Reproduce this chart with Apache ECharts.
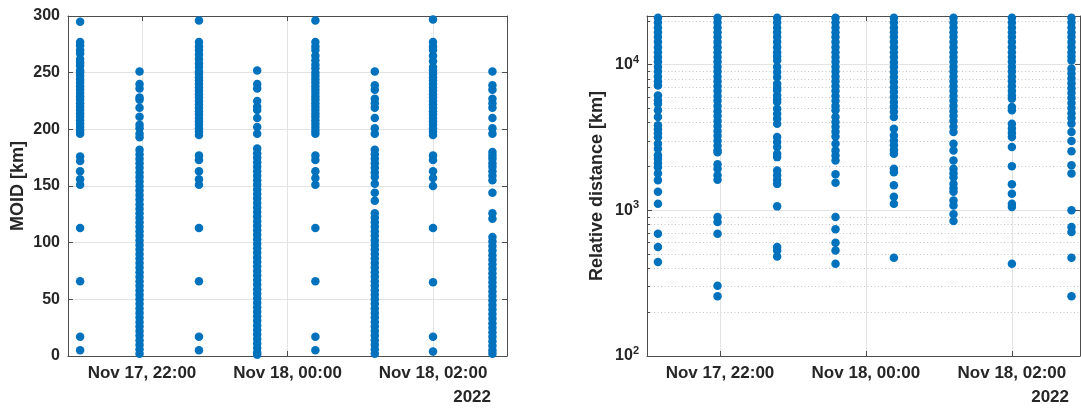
<!DOCTYPE html>
<html>
<head>
<meta charset="utf-8">
<script src="https://cdn.jsdelivr.net/npm/echarts@6/dist/echarts.min.js"></script>
<style>
  html, body { margin: 0; padding: 0; background: #fff; }
  #chart { width: 1081px; height: 408px; }
</style>
</head>
<body>
<div id="chart"></div>
<script>
// epochs of the eight observation batches
const epochs = ['2022-11-17 21:09', '2022-11-17 21:58', '2022-11-17 22:47', '2022-11-17 23:35',
  '2022-11-18 00:23', '2022-11-18 01:12', '2022-11-18 02:00', '2022-11-18 02:49']
const xTicks = ['2022-11-17 22:00', '2022-11-18 00:00', '2022-11-18 02:00']
const distTicks = [100, 1000, 10000]
const distMinorTicks = [200, 300, 400, 500, 600, 700, 800, 900,
  2000, 3000, 4000, 5000, 6000, 7000, 8000, 9000, 20000]

// MOID [km] per epoch
const moid1 = [295, 277, 274, 270, 267, 262, 259, 256, 252, 250, 247, 244, 241, 238, 235, 232, 229, 226, 223,
  220, 217, 214, 211, 208, 205, 202, 199, 196, 176, 172, 163, 156, 151, 113, 66, 17, 5]
const moid2 = [251, 240, 236, 228, 226, 219, 211, 204, 201, 196, 193, 182, 178, 174, 170, 166, 162, 158, 154,
  150, 146, 142, 138, 134, 130, 126, 122, 118, 114, 110, 106, 102, 98, 94, 90, 86, 82, 78, 74, 70, 66, 62,
  58, 54, 50, 46, 42, 38, 34, 30, 26, 22, 18, 14, 10, 6, 2]
const moid3 = [296, 277, 273, 270, 266, 262, 258, 255, 251, 249, 246, 243, 240, 237, 234, 231, 228, 225, 222,
  219, 216, 213, 210, 207, 204, 201, 198, 195, 177, 173, 163, 156, 151, 113, 66, 17, 5]
const moid4 = [252, 240, 236, 225, 220, 217, 210, 202, 196, 183, 179, 175, 171, 167, 163, 159, 155, 151, 147,
  143, 139, 135, 131, 127, 123, 119, 115, 111, 107, 103, 99, 95, 91, 87, 83, 79, 75, 71, 67, 63, 59, 55,
  51, 47, 43, 39, 35, 31, 27, 23, 19, 15, 11, 7, 3, 1]
const moid5 = [296, 277, 273, 270, 265, 261, 257, 254, 250, 247, 244, 241, 238, 235, 232, 229, 226, 223, 220,
  217, 214, 211, 208, 205, 202, 199, 196, 177, 173, 163, 157, 151, 113, 66, 17, 5]
const moid6 = [251, 239, 235, 227, 223, 219, 210, 201, 196, 182, 178, 174, 170, 166, 162, 158, 152, 144, 137,
  126, 122, 118, 114, 110, 106, 102, 98, 94, 90, 86, 82, 78, 74, 70, 66, 62, 58, 54, 50, 46, 42, 38, 34,
  30, 26, 22, 18, 14, 10, 6, 2]
const moid7 = [297, 277, 273, 270, 265, 260, 255, 252, 249, 246, 243, 240, 237, 234, 231, 228, 225, 222, 219,
  216, 213, 210, 207, 204, 201, 198, 195, 177, 173, 163, 157, 150, 113, 65, 17, 4]
const moid8 = [251, 239, 235, 227, 223, 219, 210, 201, 196, 180, 177, 174, 170, 167, 163, 159, 155, 144, 126,
  121, 105, 101, 97, 93, 89, 85, 81, 77, 73, 69, 65, 61, 57, 53, 49, 45, 41, 37, 33, 29, 25, 21, 17, 13,
  9, 5, 2]

// relative distance [km] per epoch
const dist1 = [21000, 19500, 18000, 16700, 15500, 14300, 13200, 12200, 11300, 10500, 9700, 9000, 8300, 7700,
  7200, 6150, 5700, 5390, 4860, 4380, 3840, 3600, 3380, 3180, 2870, 2650, 2390, 2250, 2110, 1980, 1790,
  1610, 1340, 1110, 692, 560, 442]
const dist2 = [21000, 19500, 18000, 16700, 15500, 14300, 13200, 12200, 11300, 10500, 9700, 9000, 8300, 7700,
  7100, 6600, 6100, 5650, 5200, 4800, 4450, 4100, 3800, 3500, 3250, 3000, 2780, 2580, 2510, 2070, 1930,
  1740, 1620, 900, 832, 692, 304, 257]
const dist3 = [21000, 19500, 18000, 16700, 15500, 14300, 13200, 12200, 11400, 10700, 9640, 8900, 8220, 7410,
  6950, 6670, 6150, 5800, 5540, 4990, 4600, 4260, 3930, 3190, 2950, 2720, 2450, 2320, 1880, 1740, 1620,
  1520, 1065, 560, 531, 483]
const dist4 = [21000, 19500, 18000, 16700, 15500, 14300, 13200, 12200, 11300, 10500, 9700, 9000, 8300, 7700,
  7100, 6600, 6100, 5650, 5200, 4860, 4380, 4050, 3750, 3470, 3210, 2870, 2580, 2380, 2200, 1770, 1550,
  900, 741, 600, 531, 430]
const dist5 = [21000, 19500, 18000, 16700, 15500, 14300, 13200, 12200, 11300, 10400, 9640, 8900, 8220, 7600,
  7000, 6500, 6000, 5550, 5150, 4750, 4380, 3640, 3270, 3020, 2800, 2600, 2450, 1930, 1830, 1490, 1240,
  1110, 473]
const dist6 = [21000, 19500, 18000, 16700, 15500, 14300, 13200, 12200, 11300, 10500, 9700, 9000, 8300, 7700,
  7100, 6600, 6100, 5650, 5200, 4800, 4450, 4100, 3750, 3450, 2870, 2580, 2200, 1930, 1800, 1690, 1520,
  1420, 1340, 1170, 1080, 940, 845]
const dist7 = [21000, 19500, 18000, 16700, 15500, 14300, 13200, 12200, 11300, 10500, 9700, 9000, 8300, 7700,
  7100, 6600, 6150, 5850, 5120, 4860, 3930, 3650, 3400, 3190, 2720, 2005, 1510, 1300, 1110, 1055, 430]
const dist8 = [21000, 19500, 18000, 16700, 15500, 14300, 13200, 12200, 11400, 10700, 9400, 8700, 8050, 7450,
  6900, 6400, 5900, 5450, 5050, 4650, 4300, 3940, 3450, 2990, 2550, 2040, 1790, 1000, 770, 710, 473, 257]

const moidCols = [moid1, moid2, moid3, moid4, moid5, moid6, moid7, moid8]
const distCols = [dist1, dist2, dist3, dist4, dist5, dist6, dist7, dist8]

const font = '"Liberation Sans", Arial, sans-serif'
const textColor = '#262626'
const axisColor = '#4d4d4d'
const gridColor = '#e3e3e3'
const dotColor = '#0072BD'
const months = ['Jan', 'Feb', 'Mar', 'Apr', 'May', 'Jun', 'Jul', 'Aug', 'Sep', 'Oct', 'Nov', 'Dec']

function toMs(s) {
  let [d, t] = s.split(' ')
  let [Y, M, D] = d.split('-').map(Number)
  let [h, m] = t.split(':').map(Number)
  return new Date(Y, M - 1, D, h, m).getTime()
}
function pad(n) { return (n < 10 ? '0' : '') + n }
function fmtTime(v) {
  let d = new Date(v)
  return months[d.getMonth()] + ' ' + d.getDate() + ', ' + pad(d.getHours()) + ':' + pad(d.getMinutes())
}
function pairs(cols) {
  let out = []
  cols.forEach((c, i) => c.forEach(v => out.push([toMs(epochs[i]), v])))
  return out
}

const tickMs = xTicks.map(toMs)
const labelStyle = { fontSize: 16, fontWeight: 'bold', color: textColor, fontFamily: font }
const xLabelStyle = { fontSize: 17, fontWeight: 'bold', color: textColor, fontFamily: font }
const nameStyle = { fontSize: 18, fontWeight: 'bold', color: textColor, fontFamily: font }

// time runs on a plain value axis in milliseconds
function xAx(grid, pos, min, max) {
  let bottom = pos === 'bottom'
  return {
    type: 'value', gridIndex: grid, position: pos, min: toMs(min), max: toMs(max),
    axisLine: { show: true, onZero: false, lineStyle: { color: axisColor, width: 1 } },
    axisTick: { show: true, inside: true, length: 5, customValues: tickMs, lineStyle: { color: axisColor } },
    axisLabel: Object.assign({ show: bottom, customValues: tickMs, formatter: fmtTime, margin: 9 }, xLabelStyle),
    splitLine: { show: bottom, lineStyle: { color: gridColor, width: 1 } }
  }
}

function logLabel(v) {
  return '{b|10}{s|' + Math.round(Math.log10(v)) + '}'
}

const chart = echarts.init(document.getElementById('chart'), null, { renderer: 'canvas' })
chart.setOption({
  animation: false,
  backgroundColor: '#fff',
  grid: [
    { left: 68, top: 16, width: 439, height: 340 },
    { left: 647, top: 16, width: 433, height: 340 }
  ],
  xAxis: [
    xAx(0, 'bottom', '2022-11-17 20:59', '2022-11-18 03:01'),
    xAx(0, 'top', '2022-11-17 20:59', '2022-11-18 03:01'),
    xAx(1, 'bottom', '2022-11-17 21:00', '2022-11-18 02:56'),
    xAx(1, 'top', '2022-11-17 21:00', '2022-11-18 02:56')
  ],
  yAxis: [
    {
      type: 'value', gridIndex: 0, position: 'left', min: 0, max: 300, interval: 50,
      name: 'MOID [km]', nameLocation: 'middle', nameGap: 41, nameTextStyle: nameStyle,
      axisLine: { show: true, lineStyle: { color: axisColor, width: 1 } },
      axisTick: { show: true, inside: true, length: 5, lineStyle: { color: axisColor } },
      axisLabel: Object.assign({ margin: 8 }, labelStyle),
      splitLine: { show: true, lineStyle: { color: gridColor, width: 1 } }
    },
    {
      type: 'value', gridIndex: 0, position: 'right', min: 0, max: 300, interval: 50,
      axisLine: { show: true, lineStyle: { color: axisColor, width: 1 } },
      axisTick: { show: true, inside: true, length: 5, lineStyle: { color: axisColor } },
      axisLabel: { show: false },
      splitLine: { show: false }
    },
    {
      type: 'log', logBase: 10, gridIndex: 1, position: 'left', min: 100, max: 21600,
      name: 'Relative distance [km]', nameLocation: 'middle', nameGap: 41, nameTextStyle: nameStyle,
      axisLine: { show: true, lineStyle: { color: axisColor, width: 1 } },
      axisTick: { show: true, inside: true, length: 5, customValues: distTicks, lineStyle: { color: axisColor } },
      axisLabel: {
        customValues: distTicks, formatter: logLabel, margin: 8,
        rich: {
          b: { fontSize: 16, fontWeight: 'bold', color: textColor, fontFamily: font },
          s: { fontSize: 11, fontWeight: 'bold', color: textColor, fontFamily: font, verticalAlign: 'top', padding: [0, 0, 10, 0] }
        }
      },
      splitLine: { show: true, lineStyle: { color: gridColor, width: 1 } }
    },
    {
      type: 'log', logBase: 10, gridIndex: 1, position: 'left', min: 100, max: 21600,
      axisLine: { show: false },
      axisTick: { show: true, inside: true, length: 3, customValues: distMinorTicks, lineStyle: { color: axisColor } },
      axisLabel: { show: false },
      splitLine: { show: true, lineStyle: { color: '#c4c4c4', width: 1, type: [1, 2.5] } }
    },
    {
      type: 'log', logBase: 10, gridIndex: 1, position: 'right', min: 100, max: 21600,
      axisLine: { show: true, lineStyle: { color: axisColor, width: 1 } },
      axisTick: { show: true, inside: true, length: 5, customValues: distTicks, lineStyle: { color: axisColor } },
      axisLabel: { show: false },
      splitLine: { show: false }
    }
  ],
  series: [
    {
      type: 'scatter', xAxisIndex: 0, yAxisIndex: 0, data: pairs(moidCols),
      symbolSize: 8.5, itemStyle: { color: dotColor, opacity: 1 }, silent: true
    },
    {
      type: 'scatter', xAxisIndex: 2, yAxisIndex: 2, data: pairs(distCols),
      symbolSize: 8.5, itemStyle: { color: dotColor, opacity: 1 }, silent: true
    }
  ],
  graphic: [
    { type: 'text', right: 590, top: 389, style: { text: '2022', font: 'bold 17px ' + font, fill: textColor } },
    { type: 'text', right: 12, top: 389, style: { text: '2022', font: 'bold 17px ' + font, fill: textColor } }
  ]
})
</script>
</body>
</html>
